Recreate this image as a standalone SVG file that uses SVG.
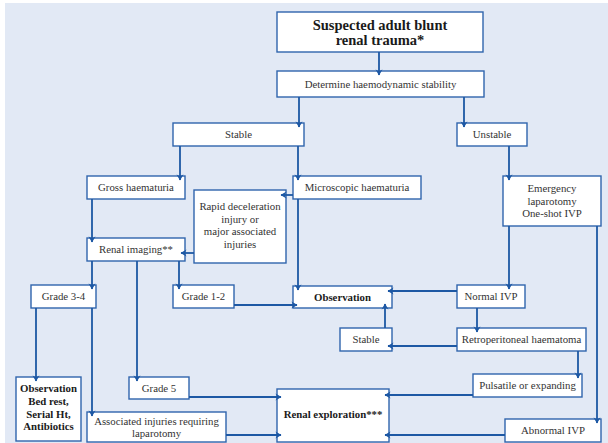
<svg xmlns="http://www.w3.org/2000/svg" width="608" height="443" viewBox="0 0 608 443">
  <defs>
    <style>
      .box { fill: #ffffff; stroke: #2f64ad; stroke-width: 1.4; }
      .t { font-family: "Liberation Serif", "DejaVu Serif", serif; font-size: 10.8px; fill: #333333; text-anchor: middle; }
      .b { font-weight: bold; fill: #1a1a1a; }
      .title { font-size: 14.5px; }
      .c { fill: none; stroke: #1d58a4; stroke-width: 1.8; marker-end: url(#arr); }
    </style>
    <marker id="arr" viewBox="-6 -4 7 8" markerWidth="7" markerHeight="8" refX="0" refY="0" orient="auto" markerUnits="userSpaceOnUse">
      <path d="M-5.5,-3.5 L0.5,0 L-5.5,3.5 L-3.8,0 Z" fill="#1d58a4"/>
    </marker>
  </defs>

  <!-- page backdrop -->
  <rect x="0" y="0" width="608" height="443" fill="#ffffff"/>
  <rect x="5" y="3" width="603" height="440" fill="#e2e9f5"/>

  <g id="suspected">
    <rect class="box" x="277" y="12" width="206" height="40"/>
    <text class="t b title" x="380" y="29.5">Suspected adult blunt</text>
    <text class="t b title" x="380" y="44.5">renal trauma*</text>
  </g>
  <g id="determine">
    <rect class="box" x="277" y="71" width="207" height="26"/>
    <text class="t" x="380.5" y="88">Determine haemodynamic stability</text>
  </g>
  <g id="stable">
    <rect class="box" x="173" y="123" width="131" height="23"/>
    <text class="t" x="238.5" y="138">Stable</text>
  </g>
  <g id="unstable">
    <rect class="box" x="457" y="123" width="70" height="23"/>
    <text class="t" x="492" y="138">Unstable</text>
  </g>
  <g id="gross">
    <rect class="box" x="87" y="176" width="98" height="23"/>
    <text class="t" x="136" y="191">Gross haematuria</text>
  </g>
  <g id="microscopic">
    <rect class="box" x="293" y="176" width="128" height="23"/>
    <text class="t" x="357" y="191">Microscopic haematuria</text>
  </g>
  <g id="emergency">
    <rect class="box" x="503" y="176" width="98" height="50"/>
    <text class="t" x="552" y="192">Emergency</text>
    <text class="t" x="552" y="204.5">laparotomy</text>
    <text class="t" x="552" y="217">One-shot IVP</text>
  </g>
  <g id="rapid">
    <rect class="box" x="194" y="190" width="92" height="73"/>
    <text class="t" x="240" y="210">Rapid deceleration</text>
    <text class="t" x="240" y="222.5">injury or</text>
    <text class="t" x="240" y="235">major associated</text>
    <text class="t" x="240" y="248">injuries</text>
  </g>
  <g id="imaging">
    <rect class="box" x="87" y="238" width="98" height="23"/>
    <text class="t" x="136" y="253">Renal imaging**</text>
  </g>
  <g id="grade34">
    <rect class="box" x="31" y="285" width="65" height="23"/>
    <text class="t" x="63.5" y="300">Grade 3-4</text>
  </g>
  <g id="grade12">
    <rect class="box" x="173" y="285" width="61" height="23"/>
    <text class="t" x="203.5" y="300">Grade 1-2</text>
  </g>
  <g id="observation">
    <rect class="box" x="293" y="286" width="99" height="22"/>
    <text class="t b" x="342.5" y="301">Observation</text>
  </g>
  <g id="normal-ivp">
    <rect class="box" x="457" y="285" width="68" height="23"/>
    <text class="t" x="491" y="300">Normal IVP</text>
  </g>
  <g id="stable-2">
    <rect class="box" x="340" y="328" width="52" height="23"/>
    <text class="t" x="366" y="343">Stable</text>
  </g>
  <g id="retroperitoneal">
    <rect class="box" x="457" y="328" width="129" height="23"/>
    <text class="t" x="521.5" y="343">Retroperitoneal haematoma</text>
  </g>
  <g id="pulsatile">
    <rect class="box" x="473" y="374" width="109" height="23"/>
    <text class="t" x="527.5" y="389">Pulsatile or expanding</text>
  </g>
  <g id="bedrest">
    <rect class="box" x="16" y="377" width="65" height="64"/>
    <text class="t b" x="48.5" y="392">Observation</text>
    <text class="t b" x="48.5" y="404.5">Bed rest,</text>
    <text class="t b" x="48.5" y="417.5">Serial Ht,</text>
    <text class="t b" x="48.5" y="430">Antibiotics</text>
  </g>
  <g id="grade5">
    <rect class="box" x="129" y="377" width="60" height="22"/>
    <text class="t" x="159" y="392">Grade 5</text>
  </g>
  <g id="associated">
    <rect class="box" x="87" y="412" width="139" height="30"/>
    <text class="t" x="156.5" y="424.5">Associated injuries requiring</text>
    <text class="t" x="156.5" y="437">laparotomy</text>
  </g>
  <g id="exploration">
    <rect class="box" x="277" y="389" width="112" height="53"/>
    <text class="t b" x="333" y="418">Renal exploration***</text>
  </g>
  <g id="abnormal-ivp">
    <rect class="box" x="505" y="419" width="96" height="23"/>
    <text class="t" x="553" y="434">Abnormal IVP</text>
  </g>

  <!-- connectors drawn last so the arrow tips sit over the box edges -->
  <g id="connectors">
    <path class="c" d="M379,52 V75"/>
    <path class="c" d="M299,97 V127"/>
    <path class="c" d="M464,97 V127"/>
    <path class="c" d="M180,146 V180"/>
    <path class="c" d="M298,146 V180"/>
    <path class="c" d="M293,195 H281"/>
    <path class="c" d="M92,199 V242"/>
    <path class="c" d="M194,253 H181"/>
    <path class="c" d="M298,199 V290"/>
    <path class="c" d="M92,261 V289"/>
    <path class="c" d="M179,261 V289"/>
    <path class="c" d="M137,261 V381"/>
    <path class="c" d="M234,305 H297"/>
    <path class="c" d="M509,146 V180"/>
    <path class="c" d="M509,226 V289"/>
    <path class="c" d="M597,226 V423"/>
    <path class="c" d="M457,291 H388"/>
    <path class="c" d="M477,308 V332"/>
    <path class="c" d="M457,346 H388"/>
    <path class="c" d="M385,328 V304"/>
    <path class="c" d="M578,351 V378"/>
    <path class="c" d="M473,395 H385"/>
    <path class="c" d="M189,397 H281"/>
    <path class="c" d="M36,308 V381"/>
    <path class="c" d="M92,308 V416"/>
    <path class="c" d="M226,435 H281"/>
    <path class="c" d="M505,435 H385"/>
  </g>
</svg>
